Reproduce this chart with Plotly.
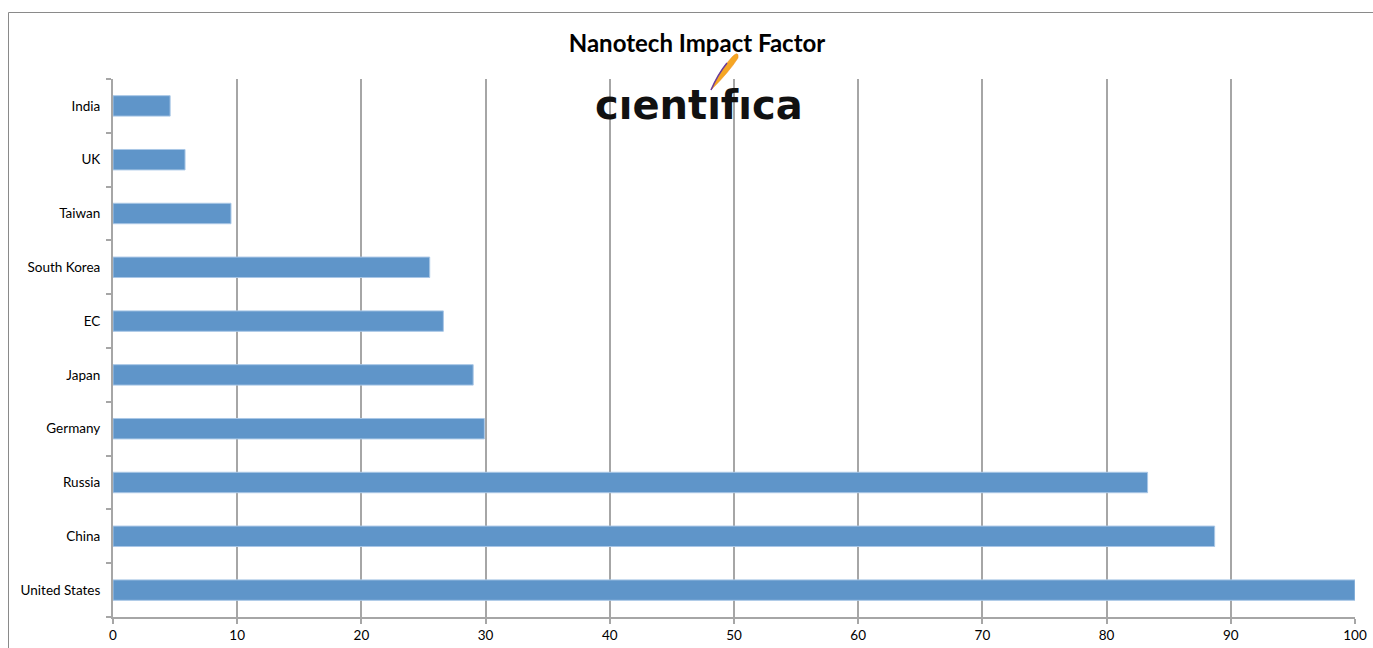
import plotly.graph_objects as go

# Nanotech impact factor by country (index, US = 100)
countries = ["United States", "China", "Russia", "Germany", "Japan",
             "EC", "South Korea", "Taiwan", "UK", "India"]
impact = [100, 88.7, 83.3, 29.9, 29.0, 26.6, 25.5, 9.5, 5.8, 4.6]
x_ticks = list(range(0, 101, 10))

W, H = 1373, 648
ML, MR, MT, MB = 113, 18, 79, 31
PW, PH = W - ML - MR, H - MT - MB


def px(xpix):
    return (xpix - ML) / PW


def py(ypix):
    return (H - MB - ypix) / PH


fig = go.Figure(go.Bar(
    x=impact,
    y=countries,
    orientation="h",
    marker=dict(color="#5f95c9", line=dict(color="#a9c7e6", width=1)),
    hoverinfo="x+y",
))

axis_grey = "#a6a6a6"
fig.update_layout(
    width=W, height=H,
    margin=dict(l=ML, r=MR, t=MT, b=MB, autoexpand=False),
    paper_bgcolor="white",
    plot_bgcolor="white",
    bargap=0.62,
    showlegend=False,
    font=dict(family="Lato, Carlito, sans-serif", size=12, color="#000000"),
    title=dict(
        text="<b>Nanotech Impact Factor</b>",
        x=(697) / W, xanchor="center",
        y=1 - 44 / H, yanchor="middle",
        font=dict(family="Lato, sans-serif", size=24, color="#000000"),
    ),
    xaxis=dict(
        range=[0, 100],
        tickvals=x_ticks,
        ticktext=[str(v) for v in x_ticks],
        showgrid=True, gridcolor=axis_grey, gridwidth=1.5,
        zeroline=False,
        showline=True, linecolor=axis_grey, linewidth=2,
        ticks="outside", ticklen=5, tickcolor=axis_grey, tickwidth=1.5,
        tickfont=dict(size=13.5),
        automargin=False,
        fixedrange=True,
    ),
    yaxis=dict(
        type="category",
        categoryorder="array", categoryarray=countries,
        showgrid=False,
        showline=True, linecolor=axis_grey, linewidth=2,
        ticks="outside", ticklen=5, tickcolor=axis_grey, tickwidth=1.5,
        tickson="boundaries",
        ticklabelstandoff=8,
        tickfont=dict(size=13.5),
        automargin=False,
        fixedrange=True,
    ),
)

# chart frame
fig.add_shape(type="rect", xref="paper", yref="paper",
              x0=px(8.5), x1=px(1400), y0=py(12.5), y1=py(700),
              line=dict(color="#8a8a8a", width=1), fillcolor="rgba(0,0,0,0)",
              layer="below")

# logo: flame streak above the wordmark
flame = (f"M {px(711)},{py(90)} "
         f"Q {px(720)},{py(70)} {px(732)},{py(57)} "
         f"Q {px(739)},{py(50)} {px(738)},{py(58)} "
         f"Q {px(729)},{py(72)} {px(711)},{py(90)} Z")
fig.add_shape(type="path", xref="paper", yref="paper", path=flame,
              fillcolor="#f5a623", line=dict(color="#f08a1c", width=0.5))
streak = (f"M {px(711)},{py(90)} "
          f"Q {px(718)},{py(74)} {px(727)},{py(63)}")
fig.add_shape(type="path", xref="paper", yref="paper", path=streak,
              line=dict(color="#6a3c9c", width=1.5))

fig.add_annotation(
    text="<b>cıentıfıca</b>",
    xref="paper", yref="paper",
    x=px(699), y=py(105), xanchor="center", yanchor="middle",
    showarrow=False,
    font=dict(family="DejaVu Sans", size=40, color="#111111"),
)

fig.write_html("out.html")
